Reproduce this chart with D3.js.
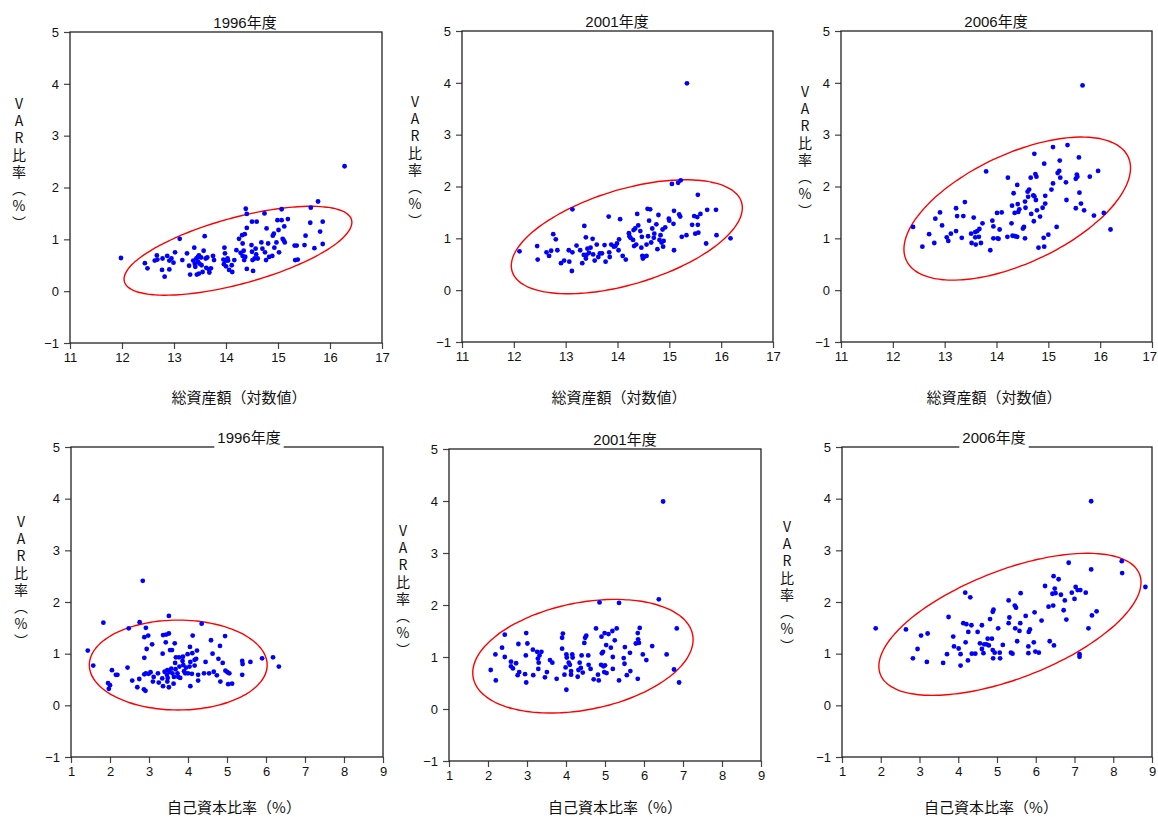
<!DOCTYPE html>
<html>
<head>
<meta charset="utf-8">
<script src="https://cdn.jsdelivr.net/npm/d3@7"></script>
<style>
  body { margin: 0; background: #fff; }
  svg { display: block; }
</style>
</head>
<body>
<div id="chart"></div>
<script>
// data: [x, VAR ratio %]
var assets1996 = [[11.98,0.64],[12.44,0.54],[12.49,0.44],[12.63,0.59],[12.67,0.69],[12.68,0.61],[12.78,0.63],[12.77,0.41],[12.82,0.28],[12.87,0.68],[12.91,0.59],[12.91,0.42],[12.95,0.63],[12.99,0.55],[13.02,0.75],[13.11,1.01],[13.16,0.60],[13.25,0.73],[13.29,0.49],[13.31,0.32],[13.39,0.84],[13.37,0.59],[13.40,0.53],[13.41,0.47],[13.43,0.63],[13.46,0.66],[13.46,0.57],[13.48,0.69],[13.49,0.53],[13.44,0.32],[13.48,0.34],[13.52,0.65],[13.53,0.50],[13.55,0.37],[13.57,0.78],[13.59,1.06],[13.61,0.63],[13.62,0.45],[13.64,0.65],[13.67,0.42],[13.68,0.36],[13.71,0.44],[13.75,0.68],[13.77,0.60],[13.95,0.61],[13.96,0.52],[13.97,0.84],[13.98,0.73],[14.00,0.59],[14.00,0.48],[14.03,0.63],[14.04,0.59],[14.06,0.41],[14.11,0.50],[14.12,0.37],[14.16,0.60],[14.20,0.79],[14.25,1.01],[14.28,0.74],[14.31,1.08],[14.32,0.92],[14.32,0.68],[14.34,0.78],[14.35,0.60],[14.36,1.10],[14.37,0.66],[14.38,1.59],[14.40,1.49],[14.40,1.22],[14.40,0.43],[14.49,0.89],[14.50,0.76],[14.51,0.60],[14.52,0.39],[14.50,1.34],[14.55,0.63],[14.57,0.82],[14.58,0.71],[14.59,1.34],[14.61,0.63],[14.68,0.94],[14.70,0.82],[14.74,1.50],[14.75,0.75],[14.77,0.60],[14.78,1.21],[14.81,0.92],[14.83,0.66],[14.89,0.68],[14.90,1.07],[14.92,1.11],[14.93,0.84],[14.97,0.94],[14.99,1.37],[15.01,1.18],[15.02,0.75],[15.07,1.58],[15.07,1.37],[15.09,1.01],[15.11,0.98],[15.12,1.25],[15.13,0.94],[15.19,1.39],[15.32,0.88],[15.33,0.60],[15.36,0.88],[15.38,0.61],[15.51,0.89],[15.53,1.07],[15.62,1.32],[15.63,1.61],[15.70,0.83],[15.77,1.73],[15.81,1.15],[15.86,1.34],[15.86,0.91],[16.28,2.41]];

var assets2001 = [[12.11,0.75],[12.45,0.85],[12.46,0.59],[12.63,0.73],[12.68,0.66],[12.72,0.76],[12.76,1.08],[12.81,0.98],[12.84,0.77],[12.91,0.52],[12.97,0.57],[13.06,0.77],[13.07,0.55],[13.12,0.37],[13.13,1.56],[13.13,0.73],[13.21,0.86],[13.28,0.77],[13.32,0.52],[13.35,0.68],[13.36,1.24],[13.39,1.02],[13.39,0.61],[13.40,0.68],[13.42,0.80],[13.45,0.72],[13.48,0.82],[13.52,0.99],[13.53,0.69],[13.56,0.57],[13.60,0.88],[13.63,0.64],[13.66,0.71],[13.70,0.71],[13.75,0.87],[13.77,0.55],[13.83,1.42],[13.84,0.73],[13.85,0.64],[13.88,0.88],[13.93,0.84],[13.96,0.85],[13.99,0.90],[14.02,0.77],[14.03,0.98],[14.05,1.37],[14.10,0.66],[14.16,0.59],[14.22,1.10],[14.23,1.04],[14.25,1.01],[14.30,0.97],[14.31,1.16],[14.32,0.85],[14.34,1.19],[14.36,0.88],[14.38,1.47],[14.40,1.25],[14.44,1.14],[14.46,0.82],[14.47,1.03],[14.48,0.66],[14.49,0.61],[14.51,0.64],[14.56,0.88],[14.56,0.66],[14.58,1.57],[14.59,1.04],[14.61,1.34],[14.63,1.56],[14.65,0.92],[14.67,1.19],[14.70,1.01],[14.71,1.09],[14.75,1.27],[14.77,0.79],[14.79,1.45],[14.81,0.97],[14.83,1.06],[14.85,0.92],[14.87,1.17],[14.88,0.84],[14.89,0.95],[14.92,1.21],[14.99,1.38],[15.00,1.34],[15.05,2.05],[15.08,1.28],[15.09,1.53],[15.09,0.77],[15.17,2.07],[15.19,1.46],[15.21,1.42],[15.22,2.12],[15.24,1.03],[15.33,1.06],[15.34,3.99],[15.44,1.26],[15.48,1.43],[15.50,1.09],[15.54,1.41],[15.55,1.84],[15.55,1.26],[15.56,1.11],[15.60,1.47],[15.71,0.90],[15.73,1.55],[15.90,1.55],[15.91,1.06],[16.18,1.00]];

var assets2006 = [[12.39,1.22],[12.57,0.84],[12.70,1.08],[12.80,0.91],[12.82,1.38],[12.91,1.50],[12.95,1.25],[13.04,1.02],[13.07,0.95],[13.12,1.09],[13.22,1.58],[13.22,1.14],[13.24,1.43],[13.33,1.01],[13.36,1.43],[13.39,1.70],[13.51,1.09],[13.52,0.91],[13.56,1.40],[13.59,1.12],[13.59,1.02],[13.60,0.88],[13.63,1.14],[13.66,1.03],[13.67,1.18],[13.70,0.91],[13.73,1.29],[13.80,2.29],[13.88,0.77],[13.92,1.34],[13.94,1.23],[13.94,1.00],[14.01,1.49],[14.02,1.00],[14.04,0.99],[14.06,1.17],[14.10,1.50],[14.21,1.03],[14.22,2.17],[14.29,1.29],[14.30,1.63],[14.31,1.05],[14.33,1.87],[14.35,1.49],[14.36,1.04],[14.40,2.03],[14.40,1.03],[14.41,1.66],[14.42,1.51],[14.44,1.56],[14.51,1.19],[14.53,1.22],[14.55,1.71],[14.55,1.00],[14.56,1.59],[14.60,1.90],[14.61,1.80],[14.63,1.94],[14.66,2.17],[14.67,1.47],[14.71,1.83],[14.72,1.33],[14.73,2.63],[14.73,1.81],[14.75,2.24],[14.76,1.74],[14.77,2.19],[14.78,1.54],[14.81,0.82],[14.84,1.42],[14.89,1.59],[14.91,1.01],[14.92,2.44],[14.92,0.84],[14.94,1.82],[14.94,1.67],[15.00,1.07],[15.06,1.94],[15.09,2.06],[15.09,2.76],[15.16,1.22],[15.18,2.26],[15.21,2.30],[15.22,2.50],[15.23,2.17],[15.34,2.08],[15.35,1.74],[15.37,2.80],[15.53,1.58],[15.53,2.15],[15.55,2.23],[15.56,2.19],[15.59,2.56],[15.60,1.88],[15.63,1.67],[15.66,3.95],[15.69,1.54],[15.80,2.19],[15.88,1.44],[15.96,2.30],[16.07,1.49],[16.20,1.17]];

var capital1996 = [[1.43,1.06],[1.57,0.77],[1.83,1.60],[1.95,0.43],[1.97,0.32],[2.00,0.39],[2.05,0.68],[2.15,0.59],[2.19,0.59],[2.45,0.73],[2.48,1.49],[2.57,0.48],[2.70,0.35],[2.75,0.51],[2.76,1.61],[2.84,2.41],[2.88,0.92],[2.88,1.32],[2.88,0.60],[2.87,0.31],[2.91,0.28],[2.92,1.50],[2.92,0.62],[2.94,1.09],[2.98,1.35],[2.99,0.61],[3.04,0.64],[3.08,1.18],[3.10,0.46],[3.12,0.55],[3.23,0.62],[3.25,0.44],[3.34,0.52],[3.35,1.00],[3.36,1.36],[3.36,0.37],[3.40,0.65],[3.43,1.22],[3.44,1.37],[3.46,0.59],[3.47,0.68],[3.47,0.46],[3.48,0.53],[3.51,1.73],[3.51,0.35],[3.51,1.39],[3.52,0.65],[3.54,1.07],[3.57,0.71],[3.59,1.07],[3.60,0.62],[3.63,0.42],[3.64,0.55],[3.66,1.20],[3.67,0.82],[3.68,0.70],[3.69,0.93],[3.73,0.62],[3.75,0.55],[3.77,0.93],[3.78,0.75],[3.80,0.53],[3.86,0.86],[3.87,0.94],[3.88,0.78],[3.90,0.66],[3.93,0.62],[3.95,0.73],[3.99,0.99],[4.00,0.62],[4.04,0.75],[4.05,1.13],[4.06,0.37],[4.06,0.84],[4.10,0.61],[4.11,1.01],[4.12,1.35],[4.17,0.77],[4.17,0.88],[4.21,0.90],[4.23,1.06],[4.26,0.59],[4.26,0.48],[4.35,1.58],[4.41,0.62],[4.45,0.84],[4.54,0.62],[4.59,1.26],[4.63,1.00],[4.66,0.65],[4.74,0.58],[4.78,0.90],[4.82,1.15],[4.83,0.46],[4.89,0.82],[4.95,1.34],[4.96,0.67],[5.01,0.64],[5.03,0.41],[5.06,0.62],[5.13,0.42],[5.39,0.86],[5.40,0.80],[5.39,0.59],[5.60,0.84],[5.90,0.91],[6.18,0.93],[6.33,0.75]];

var capital2001 = [[2.07,0.75],[2.19,1.05],[2.20,0.55],[2.36,1.18],[2.43,1.43],[2.43,1.00],[2.59,0.91],[2.59,0.82],[2.64,0.78],[2.72,0.88],[2.76,0.65],[2.78,1.25],[2.80,0.71],[2.95,0.67],[2.97,1.03],[2.98,1.46],[2.98,0.51],[3.01,1.26],[3.15,1.14],[3.16,0.65],[3.26,1.10],[3.28,0.97],[3.29,0.77],[3.30,0.89],[3.32,1.03],[3.37,1.10],[3.46,0.61],[3.51,0.71],[3.59,0.94],[3.65,0.89],[3.76,0.58],[3.90,1.16],[3.90,1.37],[3.92,1.45],[3.96,0.66],[3.99,0.80],[4.01,0.37],[4.01,1.05],[4.02,0.99],[4.07,0.89],[4.10,0.85],[4.13,0.66],[4.13,0.73],[4.16,1.05],[4.17,0.99],[4.30,0.62],[4.32,0.75],[4.35,0.89],[4.38,0.79],[4.40,1.03],[4.43,0.70],[4.47,1.27],[4.49,1.37],[4.52,1.41],[4.57,1.03],[4.58,0.85],[4.63,0.77],[4.71,0.57],[4.77,1.55],[4.82,0.66],[4.84,0.55],[4.86,2.05],[4.90,0.85],[4.91,1.39],[4.92,1.07],[4.95,1.10],[4.96,0.82],[4.98,0.71],[4.99,1.46],[5.00,0.84],[5.03,1.23],[5.04,0.69],[5.09,1.44],[5.15,1.18],[5.19,1.50],[5.20,1.00],[5.20,0.77],[5.25,1.32],[5.30,1.55],[5.36,2.04],[5.36,0.55],[5.48,0.98],[5.50,0.87],[5.51,1.19],[5.56,0.65],[5.64,1.08],[5.65,0.73],[5.79,1.26],[5.84,0.58],[5.84,1.46],[5.85,1.34],[5.87,1.27],[5.89,1.56],[5.97,1.05],[6.06,0.94],[6.21,1.21],[6.38,2.11],[6.49,3.99],[6.58,1.05],[6.77,0.76],[6.84,1.55],[6.90,0.51]];

var capital2006 = [[1.87,1.49],[2.65,1.47],[2.83,0.91],[2.95,1.09],[3.04,1.35],[3.19,0.84],[3.21,1.39],[3.61,0.82],[3.71,0.99],[3.75,1.71],[3.87,1.33],[3.89,1.14],[4.01,1.10],[4.06,0.99],[4.06,0.77],[4.13,1.59],[4.18,2.18],[4.19,1.22],[4.21,1.57],[4.25,0.87],[4.26,1.42],[4.31,2.09],[4.34,1.55],[4.35,1.00],[4.44,1.00],[4.50,1.42],[4.56,1.20],[4.61,1.09],[4.61,1.55],[4.65,1.01],[4.67,1.18],[4.73,1.18],[4.76,1.29],[4.79,1.16],[4.82,1.67],[4.87,1.29],[4.89,1.07],[4.89,1.81],[4.90,0.91],[4.91,1.85],[4.94,1.02],[5.03,1.49],[5.07,1.02],[5.08,0.91],[5.15,1.17],[5.30,2.03],[5.30,1.59],[5.32,1.70],[5.36,1.02],[5.40,1.00],[5.46,1.93],[5.47,1.49],[5.49,1.89],[5.52,1.24],[5.58,1.44],[5.60,1.59],[5.61,2.17],[5.74,1.73],[5.81,1.01],[5.81,1.14],[5.82,1.42],[5.85,1.47],[5.95,1.22],[5.97,1.80],[5.99,1.04],[6.08,1.02],[6.15,1.64],[6.24,2.31],[6.33,1.91],[6.36,1.24],[6.43,2.16],[6.45,1.93],[6.46,2.50],[6.47,1.16],[6.49,2.26],[6.51,2.17],[6.59,2.44],[6.65,2.14],[6.72,1.84],[6.75,2.03],[6.79,1.66],[6.85,2.76],[6.93,2.18],[7.00,2.06],[7.03,2.29],[7.08,2.23],[7.13,0.99],[7.13,0.94],[7.15,2.23],[7.29,2.18],[7.36,1.49],[7.43,2.63],[7.43,3.95],[7.45,1.74],[7.57,1.82],[8.22,2.79],[8.23,2.56],[8.83,2.29]];

// red ellipses: centre plus two half-axis vectors, in data units
var ellAssets1996 = { c: [14.23, 0.78], u: [2.184, 0.597], v: [-0.168, 0.616] };
var ellAssets2001 = { c: [14.18, 1.03], u: [2.213, 0.666], v: [-0.263, 0.875] };
var ellAssets2006 = { c: [14.40, 1.574], u: [2.140, 0.998], v: [-0.444, 0.953] };
var ellCapital1996 = { c: [3.75, 0.78], u: [2.28, 0], v: [0, 0.87] };
var ellCapital2001 = { c: [4.434, 1.015], u: [2.812, 0.417], v: [-0.267, 1.010] };
var ellCapital2006 = { c: [5.334, 1.568], u: [3.345, 0.968], v: [-0.502, 0.977] };

var years = ["1996年度", "2001年度", "2006年度"];
var yTicks = [-1, 0, 1, 2, 3, 4, 5];
var assetTicks = [11, 12, 13, 14, 15, 16, 17];
var capitalTicks = [1, 2, 3, 4, 5, 6, 7, 8, 9];
var assetLabel = "総資産額（対数値）";
var capitalLabel = "自己資本比率（%）";
var yLabel = "VAR比率（%）";

var svgWidth = 1158;
var svgHeight = 817;

var svg = d3.select("#chart")
  .append("svg")
  .attr("width", svgWidth)
  .attr("height", svgHeight);

svg.append("rect").attr("width", svgWidth).attr("height", svgHeight).attr("fill", "#fff");

// panel boxes and label placement
var panels = [
  { left: 70, top: 32, w: 312, h: 311, pts: assets1996, ell: ellAssets1996, xTicks: assetTicks, title: years[0], titleX: 245, xLabel: assetLabel, xLabelX: 239, xLabelY: 403, yLabX: 19, yLabY: 97, gap: false },
  { left: 462, top: 31, w: 311, h: 311, pts: assets2001, ell: ellAssets2001, xTicks: assetTicks, title: years[1], titleX: 617, xLabel: assetLabel, xLabelX: 619, xLabelY: 403, yLabX: 415, yLabY: 95, gap: false },
  { left: 841, top: 31, w: 311, h: 311, pts: assets2006, ell: ellAssets2006, xTicks: assetTicks, title: years[2], titleX: 996, xLabel: assetLabel, xLabelX: 994, xLabelY: 403, yLabX: 805, yLabY: 85, gap: false },
  { left: 71, top: 447, w: 312, h: 310, pts: capital1996, ell: ellCapital1996, xTicks: capitalTicks, title: years[0], titleX: 249, xLabel: capitalLabel, xLabelX: 234, xLabelY: 813, yLabX: 21, yLabY: 515, gap: true },
  { left: 449, top: 449, w: 312, h: 312, pts: capital2001, ell: ellCapital2001, xTicks: capitalTicks, title: years[1], titleX: 625, xLabel: capitalLabel, xLabelX: 615, xLabelY: 813, yLabX: 403, yLabY: 524, gap: false },
  { left: 842, top: 447, w: 310, h: 310, pts: capital2006, ell: ellCapital2006, xTicks: capitalTicks, title: years[2], titleX: 994, xLabel: capitalLabel, xLabelX: 991, xLabelY: 813, yLabX: 787, yLabY: 520, gap: true }
];

var latin = "'Liberation Sans', Arial, 'Noto Sans CJK JP', sans-serif";
var cjk = "'Noto Sans CJK JP', 'Liberation Sans', sans-serif";

panels.forEach(function(p) {
  var xs = d3.extent(p.xTicks);
  var x = d3.scaleLinear().domain(xs).range([0, p.w]);
  var y = d3.scaleLinear().domain([-1, 5]).range([p.h, 0]);

  var g = svg.append("g").attr("transform", `translate(${p.left}, ${p.top})`);

  // axes
  var bottomAxis = d3.axisBottom(x).tickValues(p.xTicks).tickFormat(d3.format("d"))
    .tickSize(6).tickPadding(4).tickSizeOuter(0);
  var leftAxis = d3.axisLeft(y).tickValues(yTicks).tickFormat(d3.format("d"))
    .tickSize(6).tickPadding(5).tickSizeOuter(0);

  var gx = g.append("g").attr("transform", `translate(0, ${p.h})`).call(bottomAxis);
  var gy = g.append("g").call(leftAxis);
  [gx, gy].forEach(function(a) {
    a.select(".domain").remove();
    a.selectAll("line").attr("stroke", "#444").attr("stroke-width", 1.2);
    a.selectAll("text").attr("font-family", latin).attr("font-size", 13).attr("fill", "#111");
  });

  // keep the last x label inside the page
  gx.selectAll("text").each(function() {
    var b = this.getBoundingClientRect();
    if (b.right > svgWidth - 1) d3.select(this).attr("dx", -(b.right - svgWidth + 1));
  });

  // frame
  g.append("rect")
    .attr("width", p.w).attr("height", p.h)
    .attr("fill", "none").attr("stroke", "#222").attr("stroke-width", 1.3);

  // ellipse
  var e = p.ell;
  var ring = d3.range(0, 361, 3).map(function(deg) {
    var t = deg * Math.PI / 180;
    return [e.c[0] + Math.cos(t) * e.u[0] + Math.sin(t) * e.v[0],
            e.c[1] + Math.cos(t) * e.u[1] + Math.sin(t) * e.v[1]];
  });
  g.append("path")
    .datum(ring)
    .attr("d", d3.line().x(d => x(d[0])).y(d => y(d[1])).curve(d3.curveCardinalClosed))
    .attr("fill", "none").attr("stroke", "#ff0000").attr("stroke-width", 1.4);

  // points
  g.selectAll("circle")
    .data(p.pts)
    .enter()
    .append("circle")
    .attr("cx", d => x(d[0]))
    .attr("cy", d => y(d[1]))
    .attr("r", 2.4)
    .attr("fill", "#0000ff");

  // title
  var t = svg.append("text")
    .attr("x", p.titleX).attr("y", p.top - 4)
    .attr("text-anchor", "middle")
    .attr("font-family", latin).attr("font-size", 15).attr("fill", "#111")
    .text(p.title);
  if (p.gap) {
    var bb = t.node().getBBox();
    svg.insert("rect", function() { return t.node(); })
      .attr("x", bb.x - 3).attr("y", bb.y).attr("width", bb.width + 6).attr("height", bb.height + 2)
      .attr("fill", "#fff");
  }

  // x axis title
  svg.append("text")
    .attr("x", p.xLabelX).attr("y", p.xLabelY)
    .attr("text-anchor", "middle")
    .attr("font-family", cjk).attr("font-size", 15).attr("fill", "#111")
    .text(p.xLabel);

  // y axis title, stacked vertically
  svg.append("text")
    .attr("x", p.yLabX).attr("y", p.yLabY)
    .style("writing-mode", "vertical-rl")
    .style("text-orientation", "upright")
    .attr("letter-spacing", 3)
    .attr("font-family", cjk).attr("font-size", 14).attr("fill", "#111")
    .text(yLabel);
});
</script>
</body>
</html>
